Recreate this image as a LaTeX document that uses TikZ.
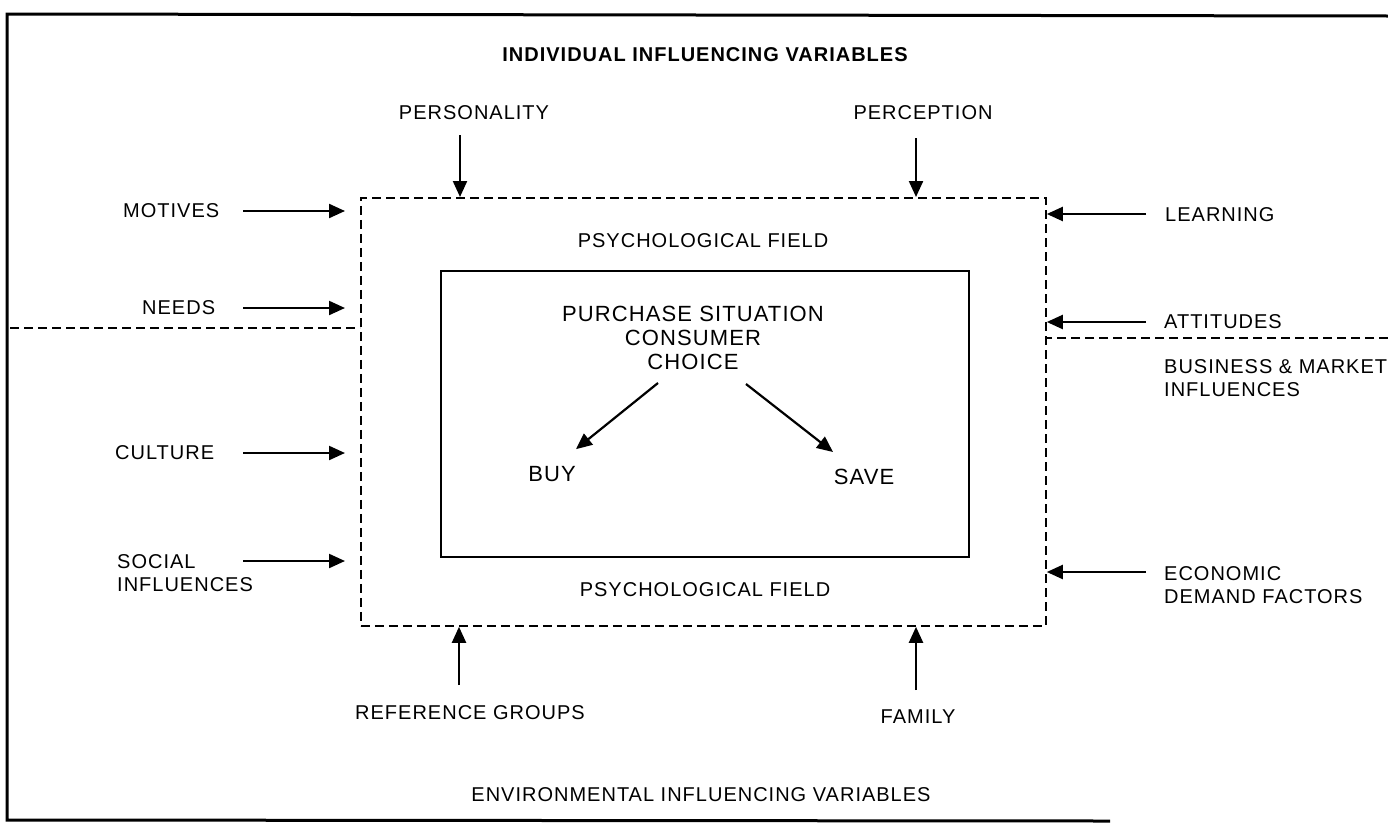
\documentclass[tikz,border=0pt]{standalone}
\usepackage{fontspec}
\setmainfont{Liberation Sans}[LetterSpace=5]
\usetikzlibrary{arrows.meta,calc}
\begin{document}
\begin{tikzpicture}[x=1pt,y=-1pt,
  lbl/.style={font=\fontsize{20}{23}\selectfont, inner sep=0pt, align=left},
  big/.style={font=\fontsize{22}{24}\selectfont, inner sep=0pt, align=center},
  ttl/.style={font=\fontsize{20}{23}\selectfont\bfseries, inner sep=0pt},
  arr/.style={line width=2.2pt, -{Triangle[length=16pt,width=14pt]}},
  dashline/.style={line width=1.8pt, dash pattern=on 9pt off 5pt},
  frame/.style={line width=3pt}
]
\useasboundingbox (0,0) rectangle (1388,825);

% outer frame, open on the right
\draw[frame] (1388,16) -- (7,14) -- (7,820) -- (1110,821);

% psychological field (dashed) and the inner choice box
\node[draw, dashline, minimum width=685pt, minimum height=428pt,
      anchor=north west, inner sep=0pt] (field) at (360,197) {};
\node[draw, line width=1.5pt, minimum width=528pt, minimum height=286pt,
      anchor=north west, inner sep=0pt] (choicebox) at (440,270) {};

% dividing lines between individual and environmental variables
\coordinate (divL) at (10,328);
\coordinate (divR) at (1388,338);
\draw[dashline] (divL) -- (divL -| field.west);
\draw[dashline] (divR) -- (divR -| field.east);

% headings
\node[ttl] (indiv) at (705,55) {INDIVIDUAL INFLUENCING VARIABLES};
\node[lbl] (envir) at (701,795) {ENVIRONMENTAL INFLUENCING VARIABLES};

% top influences
\node[lbl] (personality) at (474,113) {PERSONALITY};
\node[lbl] (perception) at (923,113) {PERCEPTION};
\coordinate (persT) at (460,135);
\coordinate (percT) at (916,138);
\draw[arr] (persT) -- (persT |- field.north);
\draw[arr] (percT) -- (percT |- field.north);

% left influences
\node[lbl, anchor=west] (motives) at (123,211) {MOTIVES};
\node[lbl, anchor=west] (needs) at (142,308) {NEEDS};
\node[lbl, anchor=west] (culture) at (115,453) {CULTURE};
\node[lbl, anchor=west] (social) at (117,573) {SOCIAL\\INFLUENCES};
\foreach \n/\y in {motT/211, needT/308, cultT/453, socT/561}{
  \coordinate (\n) at (243,\y);
  \draw[arr, shorten >=15pt] (\n) -- (\n -| field.west);
}

% right influences
\node[lbl, anchor=west] (learning) at (1165,215) {LEARNING};
\node[lbl, anchor=west] (attitudes) at (1164,322) {ATTITUDES};
\node[lbl, anchor=west] (business) at (1164,378) {BUSINESS \& MARKET\\INFLUENCES};
\node[lbl, anchor=west] (economic) at (1164,585) {ECONOMIC\\DEMAND FACTORS};
\foreach \n/\y in {learnT/214, attT/322, econT/572}{
  \coordinate (\n) at (1146,\y);
  \draw[arr] (\n) -- (\n -| field.east);
}

% bottom influences
\node[lbl] (refgroups) at (470,713) {REFERENCE GROUPS};
\node[lbl] (family) at (918,717) {FAMILY};
\coordinate (refT) at (459,685);
\coordinate (famT) at (916,690);
\draw[arr] (refT) -- (refT |- field.south);
\draw[arr] (famT) -- (famT |- field.south);

% field labels
\node[lbl] (psyTop) at (703,241) {PSYCHOLOGICAL FIELD};
\node[lbl] (psyBot) at (705,590) {PSYCHOLOGICAL FIELD};

% the purchase decision
\node[big] (choice) at (693,338) {PURCHASE SITUATION\\CONSUMER\\CHOICE};
\node[big] (buy) at (552,474) {BUY};
\node[big] (save) at (864,477) {SAVE};
\coordinate (buyS) at (658,383);
\coordinate (saveS) at (746,384);
\draw[arr] (buyS) -- ($(buy.north)+(24,-17)$);
\draw[arr] (saveS) -- ($(save.north)+(-31,-17)$);
\end{tikzpicture}
\end{document}
